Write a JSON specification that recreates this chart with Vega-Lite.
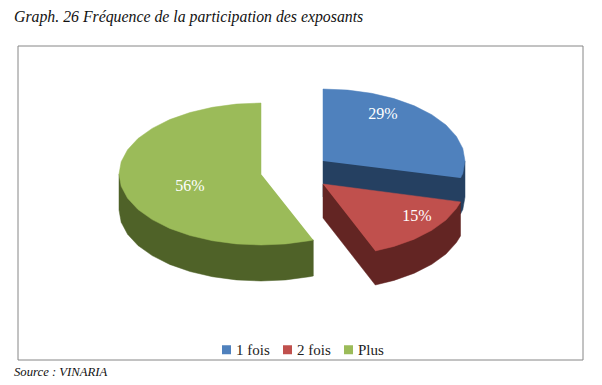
{
"$schema":"https://vega.github.io/schema/vega-lite/v6.json",
"width":602,"height":385,
"autosize":{"type":"fit","contains":"padding"},
"padding":0,
"background":"white",
"config":{"view":{"stroke":null}},
"datasets":{
"slices":[
{"slice":"1 fois","share":0.29,"lx":383,"ly":114},
{"slice":"2 fois","share":0.15,"lx":417,"ly":216},
{"slice":"Plus","share":0.56,"lx":190,"ly":186}
],
"frame":[{"x0":18,"x1":583,"y0":46,"y1":360}],
"notes":[
{"note":"Graph. 26 Fréquence de la participation des exposants","nx":14,"ny":22,"kind":"title"},
{"note":"Source : VINARIA","nx":14,"ny":376,"kind":"source"}
],
"outline":[
{"part":"1 fois côté","i":1,"x":323,"y":161},
{"part":"1 fois côté","i":2,"x":323,"y":197},
{"part":"1 fois côté","i":3,"x":460.5,"y":214},
{"part":"1 fois côté","i":4,"x":462.8,"y":209.5},
{"part":"1 fois côté","i":5,"x":465,"y":197},
{"part":"1 fois côté","i":6,"x":465,"y":161},
{"part":"1 fois","i":1,"x":323,"y":161},
{"part":"1 fois","i":2,"x":323,"y":89},
{"part":"1 fois","i":3,"x":347.7,"y":90.1},
{"part":"1 fois","i":4,"x":371.6,"y":93.3},
{"part":"1 fois","i":5,"x":394,"y":98.6},
{"part":"1 fois","i":6,"x":414.3,"y":105.8},
{"part":"1 fois","i":7,"x":431.8,"y":114.7},
{"part":"1 fois","i":8,"x":446,"y":125},
{"part":"1 fois","i":9,"x":456.4,"y":136.4},
{"part":"1 fois","i":10,"x":462.8,"y":148.5},
{"part":"1 fois","i":11,"x":465,"y":161},
{"part":"1 fois","i":12,"x":462.8,"y":173.5},
{"part":"1 fois","i":13,"x":460.5,"y":178},
{"part":"2 fois côté","i":1,"x":323,"y":184},
{"part":"2 fois côté","i":2,"x":323,"y":218},
{"part":"2 fois côté","i":3,"x":375.3,"y":285},
{"part":"2 fois côté","i":4,"x":394,"y":280.4},
{"part":"2 fois côté","i":5,"x":414.3,"y":273.2},
{"part":"2 fois côté","i":6,"x":431.8,"y":264.3},
{"part":"2 fois côté","i":7,"x":446,"y":254},
{"part":"2 fois côté","i":8,"x":456.4,"y":242.6},
{"part":"2 fois côté","i":9,"x":460.5,"y":235.9},
{"part":"2 fois côté","i":10,"x":460.5,"y":201.9},
{"part":"2 fois côté","i":11,"x":400,"y":215},
{"part":"2 fois","i":1,"x":323,"y":184},
{"part":"2 fois","i":2,"x":460.5,"y":201.9},
{"part":"2 fois","i":3,"x":456.4,"y":208.6},
{"part":"2 fois","i":4,"x":446,"y":220},
{"part":"2 fois","i":5,"x":431.8,"y":230.3},
{"part":"2 fois","i":6,"x":414.3,"y":239.2},
{"part":"2 fois","i":7,"x":394,"y":246.4},
{"part":"2 fois","i":8,"x":375.3,"y":250.9},
{"part":"Plus côté","i":1,"x":119,"y":174},
{"part":"Plus côté","i":2,"x":119,"y":210},
{"part":"Plus côté","i":3,"x":121.2,"y":222.3},
{"part":"Plus côté","i":4,"x":127.6,"y":234.3},
{"part":"Plus côté","i":5,"x":138,"y":245.5},
{"part":"Plus côté","i":6,"x":152.2,"y":255.6},
{"part":"Plus côté","i":7,"x":169.7,"y":264.4},
{"part":"Plus côté","i":8,"x":190,"y":271.5},
{"part":"Plus côté","i":9,"x":212.4,"y":276.7},
{"part":"Plus côté","i":10,"x":236.3,"y":279.9},
{"part":"Plus côté","i":11,"x":261,"y":281},
{"part":"Plus côté","i":12,"x":285.7,"y":279.9},
{"part":"Plus côté","i":13,"x":309.6,"y":276.7},
{"part":"Plus côté","i":14,"x":313.3,"y":276},
{"part":"Plus côté","i":15,"x":313.3,"y":240},
{"part":"Plus côté","i":16,"x":290,"y":230},
{"part":"Plus","i":1,"x":261,"y":174},
{"part":"Plus","i":2,"x":261,"y":103},
{"part":"Plus","i":3,"x":236.3,"y":104.1},
{"part":"Plus","i":4,"x":212.4,"y":107.3},
{"part":"Plus","i":5,"x":190,"y":112.5},
{"part":"Plus","i":6,"x":169.7,"y":119.6},
{"part":"Plus","i":7,"x":152.2,"y":128.4},
{"part":"Plus","i":8,"x":138,"y":138.5},
{"part":"Plus","i":9,"x":127.6,"y":149.7},
{"part":"Plus","i":10,"x":121.2,"y":161.7},
{"part":"Plus","i":11,"x":119,"y":174},
{"part":"Plus","i":12,"x":121.2,"y":186.3},
{"part":"Plus","i":13,"x":127.6,"y":198.3},
{"part":"Plus","i":14,"x":138,"y":209.5},
{"part":"Plus","i":15,"x":152.2,"y":219.6},
{"part":"Plus","i":16,"x":169.7,"y":228.4},
{"part":"Plus","i":17,"x":190,"y":235.5},
{"part":"Plus","i":18,"x":212.4,"y":240.7},
{"part":"Plus","i":19,"x":236.3,"y":243.9},
{"part":"Plus","i":20,"x":261,"y":245},
{"part":"Plus","i":21,"x":285.7,"y":243.9},
{"part":"Plus","i":22,"x":309.6,"y":240.7},
{"part":"Plus","i":23,"x":313.3,"y":240}
]
},
"layer":[
{"data":{"name":"frame"},
 "mark":{"type":"rect","fill":"white","stroke":"#868686","strokeWidth":1},
 "encoding":{
  "x":{"field":"x0","type":"quantitative","scale":{"domain":[0,602]},"axis":null},
  "x2":{"field":"x1"},
  "y":{"field":"y0","type":"quantitative","scale":{"domain":[385,0]},"axis":null},
  "y2":{"field":"y1"}}},
{"data":{"name":"outline"},
 "mark":{"type":"line","strokeWidth":0.5,"interpolate":"linear"},
 "encoding":{
  "x":{"field":"x","type":"quantitative","scale":{"domain":[0,602]},"axis":null},
  "y":{"field":"y","type":"quantitative","scale":{"domain":[385,0]},"axis":null},
  "order":{"field":"i","type":"quantitative"},
  "fill":{"field":"part","type":"nominal",
   "scale":{"domain":["1 fois","2 fois","Plus","1 fois côté","2 fois côté","Plus côté"],
            "range":["#4F81BD","#C0504D","#9BBB59","#254061","#632523","#4F6228"]},
   "legend":{"values":["1 fois","2 fois","Plus"],"title":null,"orient":"none","legendX":219,"legendY":342,"direction":"horizontal","symbolType":"square","symbolSize":81,"symbolStrokeWidth":0,"labelFont":"Liberation Serif","labelFontSize":15,"labelColor":"#222222","columnPadding":10,"labelOffset":2}},
  "stroke":{"field":"part","type":"nominal",
   "scale":{"domain":["1 fois","2 fois","Plus","1 fois côté","2 fois côté","Plus côté"],
            "range":["#4F81BD","#C0504D","#9BBB59","#254061","#632523","#4F6228"]},
   "legend":null}}},
{"data":{"name":"slices"},
 "mark":{"type":"text","color":"white","font":"Liberation Serif","fontSize":16},
 "encoding":{
  "x":{"field":"lx","type":"quantitative","scale":{"domain":[0,602]},"axis":null},
  "y":{"field":"ly","type":"quantitative","scale":{"domain":[385,0]},"axis":null},
  "text":{"field":"share","type":"quantitative","format":".0%"}}},
{"data":{"name":"notes"},"transform":[{"filter":"datum.kind=='title'"}],
 "mark":{"type":"text","align":"left","baseline":"alphabetic","font":"Liberation Serif","fontStyle":"italic","fontSize":15.8,"color":"#111111"},
 "encoding":{
  "x":{"field":"nx","type":"quantitative","scale":{"domain":[0,602]},"axis":null},
  "y":{"field":"ny","type":"quantitative","scale":{"domain":[385,0]},"axis":null},
  "text":{"field":"note","type":"nominal"}}},
{"data":{"name":"notes"},"transform":[{"filter":"datum.kind=='source'"}],
 "mark":{"type":"text","align":"left","baseline":"alphabetic","font":"Liberation Serif","fontStyle":"italic","fontSize":12.7,"color":"#111111"},
 "encoding":{
  "x":{"field":"nx","type":"quantitative","scale":{"domain":[0,602]},"axis":null},
  "y":{"field":"ny","type":"quantitative","scale":{"domain":[385,0]},"axis":null},
  "text":{"field":"note","type":"nominal"}}}
]
}
